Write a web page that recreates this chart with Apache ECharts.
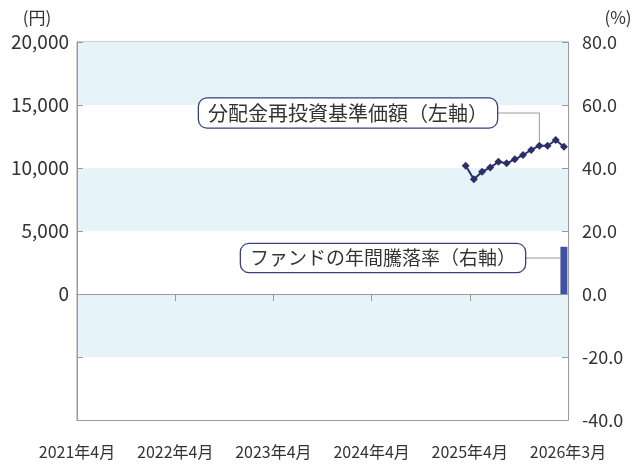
<!DOCTYPE html>
<html><head><meta charset="utf-8">
<script src="https://cdn.jsdelivr.net/npm/echarts@6/dist/echarts.min.js"></script>
<style>html,body{margin:0;padding:0;background:#fff}#c{width:635px;height:467px}</style>
</head><body><div id="c"></div>
<script>
// ---- data ----
const axisStartYear = 2021, axisStartMon = 4;   // 2021年4月 at left edge
const axisMonthCount = 60;
const xTickLabels = ['2021年4月','2022年4月','2023年4月','2024年4月','2025年4月','2026年3月'];
const leftTickLabels = [0, 5000, 10000, 15000, 20000];
const rightTickLabels = [-40, -20, 0, 20, 40, 60, 80];
const navMonths = ['2025-03','2025-04','2025-05','2025-06','2025-07','2025-08','2025-09','2025-10','2025-11','2025-12','2026-01','2026-02','2026-03'];
const navValues = [10180, 9100, 9710, 10030, 10500, 10370, 10690, 11030, 11430, 11770, 11770, 12220, 11690];
const returnMonths = ['2026-03'];
const returnValues = [15.0];
const navLabel = '分配金再投資基準価額（左軸）';
const returnLabel = 'ファンドの年間騰落率（右軸）';
const leftUnit = '(円)', rightUnit = '(%)';

function monthPos(m){
  const [y, mo] = m.split('-').map(Number);
  return (y - axisStartYear) * 12 + (mo - axisStartMon) + 0.5;
}
const FONT = "'Noto Sans CJK JP','Noto Sans',sans-serif";
const GRAY = '#9a9a9a';
const NAVY = '#2b2f68';
const BARC = '#3f51a3';
const TXT = '#333';

const chart = echarts.init(document.getElementById('c'), null, {renderer:'canvas'});
const option = {
  animation:false,
  backgroundColor:'#fff',
  textStyle:{fontFamily:FONT},
  grid:{left:77, right:67, top:42, bottom:47, show:true, borderColor:GRAY, borderWidth:1, backgroundColor:'transparent'},
  xAxis:[{
    type:'value', min:0, max:axisMonthCount, interval:12, position:'bottom',
    axisLine:{show:true, onZero:false, lineStyle:{color:GRAY}},
    axisTick:{show:false},
    splitLine:{show:false},
    axisLabel:{fontSize:16, color:TXT, margin:24, fontFamily:FONT,
      formatter:v => xTickLabels[Math.round(v/12)] || ''}
  },{
    type:'value', min:0, max:axisMonthCount, interval:12, position:'bottom',
    axisLine:{show:true, onZero:true, onZeroAxisIndex:0, lineStyle:{color:GRAY}},
    axisTick:{show:true, length:7, lineStyle:{color:GRAY}},
    splitLine:{show:false},
    axisLabel:{show:false}
  }],
  yAxis:[{
    type:'value', min:-10000, max:20000, interval:5000, position:'left',
    axisLine:{show:true, onZero:false, lineStyle:{color:GRAY}},
    axisTick:{show:true, inside:true, length:6, lineStyle:{color:GRAY}},
    splitLine:{show:false},
    splitArea:{show:true, areaStyle:{color:['#ffffff','#e6f4f9']}},
    axisLabel:{fontSize:19, color:TXT, margin:8, fontFamily:FONT,
      customValues:leftTickLabels,
      formatter:v => Number(v).toLocaleString('en-US')}
  },{
    type:'value', min:-40, max:80, interval:20, position:'right',
    axisLine:{show:true, onZero:false, lineStyle:{color:GRAY}},
    axisTick:{show:true, inside:true, length:6, lineStyle:{color:GRAY}},
    splitLine:{show:false},
    axisLabel:{fontSize:18, color:TXT, margin:14, fontFamily:FONT,
      customValues:rightTickLabels,
      formatter:v => Number(v).toFixed(1)}
  }],
  series:[{
    name:navLabel, type:'line', xAxisIndex:0, yAxisIndex:0,
    data:navMonths.map((m,i)=>[monthPos(m), navValues[i]]),
    symbol:'diamond', symbolSize:8,
    lineStyle:{width:2, color:NAVY}, itemStyle:{color:NAVY}, z:5
  },{
    name:returnLabel, type:'bar', xAxisIndex:0, yAxisIndex:1,
    data:returnMonths.map((m,i)=>[monthPos(m), returnValues[i]]),
    barWidth:7, itemStyle:{color:BARC}, z:4
  }]
};
chart.setOption(option);

// callouts anchored to data points
const pNav = chart.convertToPixel({xAxisIndex:0, yAxisIndex:0}, [monthPos(navMonths[9]), navValues[9]]);
const pBar = chart.convertToPixel({xAxisIndex:0, yAxisIndex:1}, [monthPos(returnMonths[0]), returnValues[0]]);
const pTopL = chart.convertToPixel({xAxisIndex:0, yAxisIndex:0}, [0, 20000]);
const pTopR = chart.convertToPixel({xAxisIndex:0, yAxisIndex:0}, [axisMonthCount, 20000]);
const box1Right = 497, box1Y = 113;
const box2Right = 525, box2Y = 258;
const boxStyle = {fill:TXT, backgroundColor:'#fff', borderColor:'#3a3f80', borderWidth:1.3,
  borderRadius:8, padding:[4,9,5,9], align:'right', verticalAlign:'middle'};
chart.setOption({graphic:[
  {type:'text', x:pTopL[0]-40, y:pTopL[1]-24, style:{text:leftUnit, font:'17px '+FONT, fill:TXT, align:'center', verticalAlign:'middle'}},
  {type:'text', x:pTopR[0]+50, y:pTopR[1]-24, style:{text:rightUnit, font:'17px '+FONT, fill:TXT, align:'center', verticalAlign:'middle'}},
  {type:'polyline', shape:{points:[[box1Right,box1Y],[pNav[0],box1Y],[pNav[0],pNav[1]-4]]}, style:{stroke:GRAY, lineWidth:1, fill:null}, z:10},
  {type:'text', x:box1Right, y:box1Y, style:Object.assign({text:navLabel, font:'20px '+FONT}, boxStyle), z:11},
  {type:'line', shape:{x1:box2Right, y1:box2Y, x2:pBar[0]-3.5, y2:box2Y}, style:{stroke:GRAY, lineWidth:1}, z:10},
  {type:'text', x:box2Right, y:box2Y, style:Object.assign({text:returnLabel, font:'19px '+FONT}, boxStyle), z:11}
]});
</script>
</body></html>
